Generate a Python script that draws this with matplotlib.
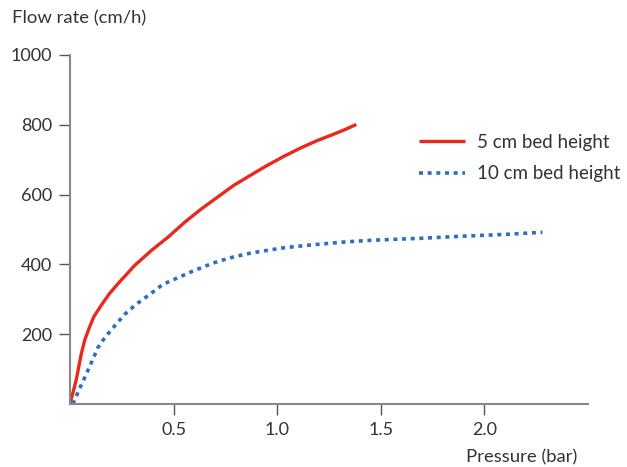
import matplotlib
matplotlib.use("Agg")
import matplotlib.pyplot as plt

# Data
red_label = "5 cm bed height"
red_p = [0, 0.030, 0.055, 0.071, 0.090, 0.115, 0.151, 0.190, 0.232, 0.312, 0.393, 0.473, 0.554,
         0.634, 0.715, 0.789, 0.870, 0.950, 1.030, 1.111, 1.190, 1.272, 1.330, 1.382]
red_f = [0, 69, 145, 183, 214, 250, 283, 316, 345, 397, 440, 478, 521,
         559, 594, 626, 655, 683, 709, 733, 754, 773, 787, 801]

blue_label = "10 cm bed height"
blue_p = [0.014, 0.047, 0.079, 0.111, 0.135, 0.168, 0.216, 0.264, 0.320, 0.385, 0.449,
          0.514, 0.586, 0.691, 0.780, 0.876, 0.960, 1.037, 1.150, 1.320, 1.450, 1.700,
          1.900, 2.100, 2.280]
blue_f = [0, 45, 86, 129, 162, 190, 224, 257, 286, 314, 343,
          360, 379, 404, 420, 433, 441, 448, 455, 464, 469, 475,
          481, 486, 492]

x_ticks = [0.5, 1.0, 1.5, 2.0]
x_ticklabels = ["0.5", "1.0", "1.5", "2.0"]
y_ticks = [200, 400, 600, 800, 1000]
y_ticklabels = ["200", "400", "600", "800", "1000"]

plt.rcParams['font.family'] = ['Lato', 'DejaVu Sans']
text_color = "#333333"
spine_color = "#888888"

W, H = 627, 467
fig = plt.figure(figsize=(W / 100, H / 100), dpi=100)
ax = fig.add_axes([70 / W, (H - 404) / H, (588 - 70) / W, (404 - 55) / H])

ax.plot(red_p, red_f, color="#e8291c", lw=2.4, solid_capstyle="butt",
        solid_joinstyle="round", label=red_label)
ax.plot(blue_p, blue_f, color="#2e6dbf", lw=2.6, linestyle=(0, (1.1, 1.3)),
        dash_capstyle="butt", label=blue_label)

ax.set_xlim(0, 2.5)
ax.set_ylim(0, 1000)
ax.set_xticks(x_ticks)
ax.set_xticklabels(x_ticklabels)
ax.set_yticks(y_ticks)
ax.set_yticklabels(y_ticklabels)

for s in ["top", "right"]:
    ax.spines[s].set_visible(False)
for s in ["left", "bottom"]:
    ax.spines[s].set_color(spine_color)
    ax.spines[s].set_linewidth(1.5)

ax.tick_params(axis="both", direction="out", length=8, width=1.0, color="#555555",
               labelsize=13, labelcolor=text_color, pad=5)

fig.text(12 / W, 1 - 18 / H, "Flow rate (cm/h)", fontsize=13.3, color=text_color,
         ha="left", va="center")
fig.text(577 / W, 1 - 457 / H, "Pressure (bar)", fontsize=13.3, color=text_color,
         ha="right", va="center")

leg = ax.legend(loc="upper left", bbox_to_anchor=((419 - 70) / (588 - 70), (404 - 134) / (404 - 55)),
                frameon=False, fontsize=13.5, handlelength=2.45, handletextpad=0.64,
                labelspacing=0.77, borderaxespad=0, borderpad=0)
for t in leg.get_texts():
    t.set_color(text_color)

fig.savefig("out.png", dpi=100)
